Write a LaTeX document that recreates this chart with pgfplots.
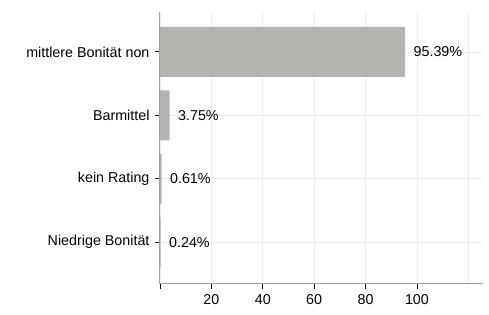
\documentclass[border=0pt]{standalone}
\usepackage{pgfplots}
\pgfplotsset{compat=1.18}
\usepackage{fontspec}
\setmainfont{Liberation Sans}
\definecolor{barc}{RGB}{180,179,175}
\definecolor{gridc}{RGB}{236,236,236}
\definecolor{axc}{RGB}{160,160,160}
\begin{document}
\begin{tikzpicture}
\begin{axis}[
  scale only axis, width=323pt, height=272pt,
  xmin=0, xmax=125.7, ymin=-0.66, ymax=3.63,
  axis lines=left,
  axis line style={-, draw=axc, line width=1pt},
  xtick={0,20,40,60,80,100}, xticklabels={,20,40,60,80,100},
  minor xtick={120}, xminorgrids, minor tick length=0pt,
  minor grid style={gridc, line width=0.8pt},
  ytick={0,1,2,3},
  yticklabels={Niedrige Bonität, kein Rating, Barmittel, mittlere Bonität non},
  tick align=outside, major tick length=5pt,
  xmajorgrids, ymajorgrids,
  major grid style={gridc, line width=0.8pt},
  tick label style={font=\fontsize{14.3}{16}\selectfont},
  y tick label style={xshift=-2pt},
  x tick label style={yshift=-2pt},
  /pgf/number format/assume math mode=true,
  ytick style={draw=black, line width=0.9pt},
  xtick style={draw=black, line width=0.9pt},
]
\addplot[xbar, bar width=0.79, fill=barc, draw=none,
  point meta=x,
  nodes near coords={\pgfmathprintnumber[fixed,fixed zerofill,precision=2]{\pgfplotspointmeta}\%},
  every node near coord/.append style={anchor=west, xshift=5pt, black, font=\fontsize{14.3}{16}\selectfont},
] coordinates {(95.39,3) (3.75,2) (0.61,1) (0.24,0)};
\end{axis}
\pgfresetboundingbox
\path (current axis.south west) ++(-160pt,-31pt) rectangle ++(489pt,315pt);
\end{tikzpicture}
\end{document}
